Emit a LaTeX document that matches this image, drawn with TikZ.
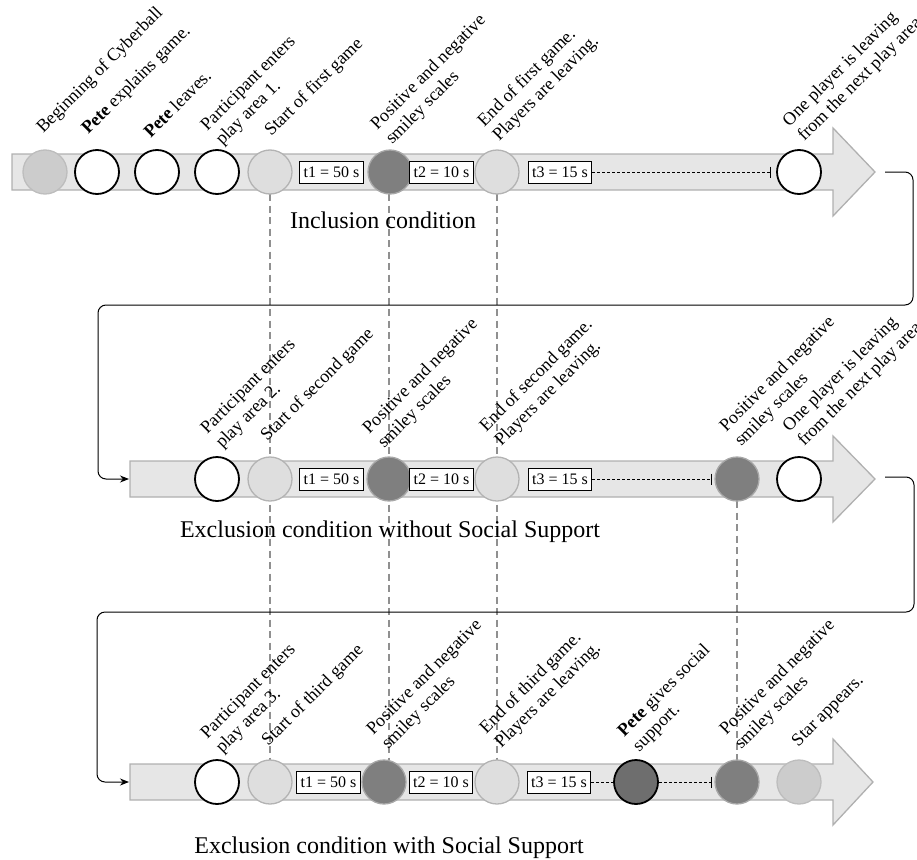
\documentclass[tikz,border=0pt]{standalone}
\usepackage{fontspec}
\setmainfont{Liberation Serif}
\usetikzlibrary{arrows.meta}
\definecolor{bandfill}{HTML}{E6E6E6}
\definecolor{bandline}{HTML}{B0B0B0}
\definecolor{startfill}{HTML}{CCCCCC}
\definecolor{startline}{HTML}{BDBDBD}
\definecolor{lightfill}{HTML}{DEDEDE}
\definecolor{lightline}{HTML}{B3B3B3}
\definecolor{darkfill}{HTML}{7F7F7F}
\definecolor{darkline}{HTML}{A8A8A8}
\definecolor{petefill}{HTML}{6E6E6E}
\definecolor{guide}{HTML}{909090}
\begin{document}
\begin{tikzpicture}[x=1pt,y=-1pt,
  band/.style={fill=bandfill,draw=bandline,line width=1.3pt,line join=miter},
  ev/.style={circle,minimum size=44pt,inner sep=0pt},
  evwhite/.style={ev,fill=white,draw=black,line width=1.8pt},
  evstart/.style={ev,fill=startfill,draw=startline,line width=1.3pt},
  evlight/.style={ev,fill=lightfill,draw=lightline,line width=1.3pt},
  evdark/.style={ev,fill=darkfill,draw=darkline,line width=1.3pt},
  evpete/.style={ev,fill=petefill,draw=black,line width=1.8pt},
  tbox/.style={draw=black,fill=white,line width=0.9pt,inner xsep=4pt,inner ysep=2pt,minimum height=22pt,font=\fontsize{16}{18}\selectfont},
  lbl/.style={rotate=45,anchor=south west,inner sep=0pt,align=left,font=\fontsize{18}{21}\selectfont},
  ttl/.style={anchor=base,inner sep=0pt,font=\fontsize{24}{28}\selectfont},
  vguide/.style={draw=guide,line width=1.8pt,dash pattern=on 7pt off 4.5pt},
  timer/.style={draw=black,line width=0.7pt,dash pattern=on 3pt off 2pt},
  timerend/.style={timer,-{Bar[width=11pt,line width=0.9pt]}},
  flow/.style={draw=black,line width=1pt,rounded corners=8pt,-{Stealth[length=9pt,width=7pt]}}
]
\useasboundingbox (0,0) rectangle (917,859);

% ---------- vertical guides (behind) ----------
\coordinate (g1a) at (270,194); \coordinate (g1b) at (270,760);
\coordinate (g2a) at (389,194); \coordinate (g2b) at (389,760);
\coordinate (g3a) at (497,194); \coordinate (g3b) at (497,760);
\coordinate (g4a) at (737,501); \coordinate (g4b) at (737,760);
\draw[vguide] (g1a) -- (g1b);
\draw[vguide] (g2a) -- (g2b);
\draw[vguide] (g3a) -- (g3b);
\draw[vguide] (g4a) -- (g4b);

% ---------- big arrows ----------
\draw[band] (12,154) -- (833,154) -- (833,128) -- (875,172) -- (833,216) -- (833,190) -- (12,190) -- cycle;
\draw[band] (130,461) -- (833,461) -- (833,436) -- (875,479) -- (833,522) -- (833,497) -- (130,497) -- cycle;
\draw[band] (130,764) -- (833,764) -- (833,739) -- (873,782) -- (833,825) -- (833,800) -- (130,800) -- cycle;
\coordinate (out1) at (885,172);
\coordinate (in2) at (129,479);
\coordinate (out2) at (885,477);
\coordinate (in3) at (129,782);

% ---------- row 1 ----------
\node[evstart] (a1) at (45,172) {};
\node[evwhite] (a2) at (97,172) {};
\node[evwhite] (a3) at (157,172) {};
\node[evwhite] (a4) at (217,172) {};
\node[evlight] (a5) at (270,172) {};
\node[tbox] (at1) at (331.5,172) {t1 = 50 s};
\node[evdark] (a6) at (390,172) {};
\node[tbox] (at2) at (441.5,172) {t2 = 10 s};
\node[evlight] (a7) at (497,172) {};
\node[tbox] (at3) at (560,172) {t3 = 15 s};
\node[evwhite] (a8) at (799,172) {};
\coordinate (abar) at (771,172);
\draw[timerend] (at3.east) -- (abar);

\node[lbl] (la1) at (46,137) {Beginning of Cyberball};
\node[lbl] (la2) at (91,138) {{\bfseries Pete} explains game.};
\node[lbl] (la3) at (151,139) {{\bfseries Pete} leaves.};
\node[lbl] (la4) at (225,149) {Participant enters\\play area 1.};
\node[lbl] (la5) at (274,140) {Start of first game};
\node[lbl] (la6) at (395,148) {Positive and negative\\smiley scales};
\node[lbl] (la7) at (502,145) {End of first game.\\Players are leaving.};
\node[lbl] (la8) at (807,145) {One player is leaving\\from the next play area};
\node[ttl] (ttl1) at (383,228) {Inclusion condition};

% ---------- row 2 ----------
\node[evwhite] (b1) at (217,479) {};
\node[evlight] (b2) at (270,479) {};
\node[tbox] (bt1) at (331.5,479) {t1 = 50 s};
\node[evdark] (b3) at (389,479) {};
\node[tbox] (bt2) at (441.5,479) {t2 = 10 s};
\node[evlight] (b4) at (497,479) {};
\node[tbox] (bt3) at (560,479) {t3 = 15 s};
\node[evdark] (b5) at (737,479) {};
\node[evwhite] (b6) at (799,479) {};
\coordinate (bbar) at (712,479);
\draw[timerend] (bt3.east) -- (bbar);

\node[lbl] (lb1) at (225,452) {Participant enters\\play area 2.};
\node[lbl] (lb2) at (270,445) {Start of second game};
\node[lbl] (lb3) at (387,452) {Positive and negative\\smiley scales};
\node[lbl] (lb4) at (504,450) {End of second game.\\Players are leaving.};
\node[lbl] (lb5) at (744,450) {Positive and negative\\smiley scales};
\node[lbl] (lb6) at (807,450) {One player is leaving\\from the next play area.};
\node[ttl] (ttl2) at (390,537) {Exclusion condition without Social Support};

% ---------- row 3 ----------
\node[evwhite] (c1) at (217,782) {};
\node[evlight] (c2) at (270,782) {};
\node[tbox] (ct1) at (328.5,782) {t1 = 50 s};
\node[evdark] (c3) at (384,782) {};
\node[tbox] (ct2) at (441,782) {t2 = 10 s};
\node[evlight] (c4) at (497,782) {};
\node[tbox] (ct3) at (559,782) {t3 = 15 s};
\node[evpete] (c5) at (636,782) {};
\node[evdark] (c6) at (737,782) {};
\node[evstart] (c7) at (799,782) {};
\coordinate (cbar) at (712,782);
\draw[timer] (ct3.east) -- (c5.west);
\draw[timerend] (c5.east) -- (cbar);

\node[lbl] (lc1) at (225,757) {Participant enters\\play area 3.};
\node[lbl] (lc2) at (271,750) {Start of third game};
\node[lbl] (lc3) at (391,753) {Positive and negative\\smiley scales};
\node[lbl] (lc4) at (504,752) {End of third game.\\Players are leaving.};
\node[lbl] (lc5) at (642,755) {{\bfseries Pete} gives social\\support.};
\node[lbl] (lc6) at (744,753) {Positive and negative\\smiley scales};
\node[lbl] (lc7) at (801,750) {Star appears.};
\node[ttl] (ttl3) at (389,853) {Exclusion condition with Social Support};

% ---------- flow connectors ----------
\draw[flow] (out1) -- (913,172) -- (913,305) -- (98,305) -- (98,479) -- (in2);
\draw[flow] (out2) -- (914,477) -- (914,612) -- (97,612) -- (97,782) -- (in3);
\end{tikzpicture}
\end{document}
